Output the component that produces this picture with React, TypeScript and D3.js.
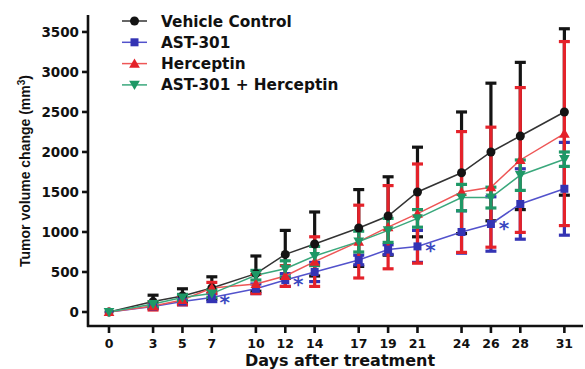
import React from 'react';
import * as d3 from 'd3';

const days = [0, 3, 5, 7, 10, 12, 14, 17, 19, 21, 24, 26, 28, 31];
const yTicks = [0, 500, 1000, 1500, 2000, 2500, 3000, 3500];

const vehicleMean = [0, 130, 200, 300, 480, 720, 850, 1050, 1200, 1500, 1740, 2000, 2200, 2500];
const vehicleErr = [0, 80, 90, 140, 220, 300, 400, 480, 490, 560, 760, 860, 920, 1040];
const astMean = [0, 70, 130, 180, 290, 400, 500, 650, 780, 820, 1000, 1100, 1350, 1540];
const astErr = [0, 30, 40, 50, 60, 80, 120, 60, 60, 200, 265, 340, 440, 580];
const hercMean = [0, 75, 150, 300, 350, 450, 630, 880, 1060, 1230, 1500, 1560, 1900, 2230];
const hercErr = [0, 50, 60, 70, 120, 130, 310, 455, 520, 620, 755, 750, 905, 1150];
const comboMean = [0, 100, 180, 230, 460, 540, 700, 880, 1020, 1170, 1430, 1430, 1710, 1910];
const comboErr = [0, 30, 40, 50, 60, 100, 120, 130, 150, 110, 165, 130, 190, 90];
const starDays = [7, 12, 21, 26];

type Series = {
  name: string;
  mean: number[];
  err: number[];
  color: string;
  lineColor: string;
  symbol: 'circle' | 'square' | 'up' | 'down';
};

const series: Series[] = [
  { name: 'Vehicle Control', mean: vehicleMean, err: vehicleErr, color: '#141414', lineColor: '#333333', symbol: 'circle' },
  { name: 'AST-301', mean: astMean, err: astErr, color: '#3434b4', lineColor: '#5252cc', symbol: 'square' },
  { name: 'Herceptin', mean: hercMean, err: hercErr, color: '#e4222a', lineColor: '#ee5656', symbol: 'up' },
  { name: 'AST-301 + Herceptin', mean: comboMean, err: comboErr, color: '#1e9866', lineColor: '#3aa87c', symbol: 'down' },
];

const x = d3.scaleLinear().domain([-1.43, 32.2]).range([88, 582]);
const y = d3.scaleLinear().domain([-175, 3712]).range([326, 15]);

const Marker = ({ s, cx, cy }: { s: Series; cx: number; cy: number }) => {
  if (s.symbol === 'circle') return <circle cx={cx} cy={cy} r={4.5} fill={s.color} />;
  if (s.symbol === 'square') return <rect x={cx - 4} y={cy - 4} width={8} height={8} fill={s.color} />;
  const tri = d3.symbol(d3.symbolTriangle, 50)();
  return (
    <path
      d={tri || ''}
      transform={`translate(${cx},${cy + (s.symbol === 'up' ? 1 : -1)}) rotate(${s.symbol === 'down' ? 180 : 0})`}
      fill={s.color}
    />
  );
};

const App = () => {
  const line = d3.line<number>().x((_, i) => x(days[i])).y(d => y(d));
  const astSeries = series[1];

  return (
    <svg width={585} height={369} style={{ position: 'absolute', left: 0, top: 0, background: '#fff' }}>
      {/* axes */}
      <g stroke="#111" strokeWidth={2.6} fill="none">
        <line x1={88} x2={88} y1={15} y2={327} />
        <line x1={87} x2={583} y1={326} y2={326} />
        {yTicks.map(t => (
          <line key={t} x1={82} x2={88} y1={y(t)} y2={y(t)} />
        ))}
        {days.map(d => (
          <line key={d} x1={x(d)} x2={x(d)} y1={326} y2={333} />
        ))}
      </g>
      <g fontFamily="DejaVu Sans, sans-serif" fontWeight="bold" fontSize={13.5} fill="#111">
        {yTicks.map(t => (
          <text key={t} x={79} y={y(t) + 5} textAnchor="end">{t}</text>
        ))}
        {days.map(d => (
          <text key={d} x={x(d)} y={348} textAnchor="middle" fontSize={12.5}>{d}</text>
        ))}
        <text x={340} y={366} textAnchor="middle" fontSize={16}>Days after treatment</text>
      </g>
      <text
        transform="translate(30,171) rotate(-90)"
        textAnchor="middle"
        fontFamily="Liberation Sans, Arial, sans-serif"
        fontWeight="bold"
        fontSize={14}
        fill="#111"
      >
        Tumor volume change (mm<tspan dy={-5} fontSize={10}>3</tspan><tspan dy={5}>)</tspan>
      </text>

      {/* series: error bars and connecting lines */}
      {series.map(s => (
        <g key={s.name}>
          <path d={line(s.mean) || ''} fill="none" stroke={s.lineColor} strokeWidth={1.5} />
          {s.mean.map((m, i) => {
            if (s.err[i] <= 0) return null;
            const cx = x(days[i]);
            const top = y(m + s.err[i]);
            const bot = y(m - s.err[i]);
            return (
              <g key={i} stroke={s.color} strokeWidth={3.2}>
                <line x1={cx} x2={cx} y1={top} y2={bot} />
                <line x1={cx - 5.5} x2={cx + 5.5} y1={top} y2={top} />
                <line x1={cx - 5.5} x2={cx + 5.5} y1={bot} y2={bot} />
              </g>
            );
          })}
        </g>
      ))}
      {series.map(s => (
        <g key={s.name + '-m'}>
          {s.mean.map((m, i) => (
            <Marker key={i} s={s} cx={x(days[i])} cy={y(m)} />
          ))}
        </g>
      ))}

      {/* significance stars */}
      {starDays.map(d => {
        const i = days.indexOf(d);
        return (
          <text
            key={d}
            x={x(d) + 13}
            y={y(astSeries.mean[i]) + 11}
            textAnchor="middle"
            fontFamily="DejaVu Sans, sans-serif"
            fontWeight="bold"
            fontSize={20}
            fill="#3a48c0"
          >
            *
          </text>
        );
      })}

      {/* legend */}
      <g fontFamily="DejaVu Sans, sans-serif" fontWeight="bold" fontSize={15.3} fill="#111">
        {series.map((s, i) => {
          const ly = 21 + i * 21.3;
          return (
            <g key={s.name}>
              <line x1={122} x2={147} y1={ly} y2={ly} stroke={s.lineColor} strokeWidth={1.5} />
              <Marker s={s} cx={134.5} cy={ly} />
              <text x={161} y={ly + 5.5}>{s.name}</text>
            </g>
          );
        })}
      </g>
    </svg>
  );
};

export default App;
